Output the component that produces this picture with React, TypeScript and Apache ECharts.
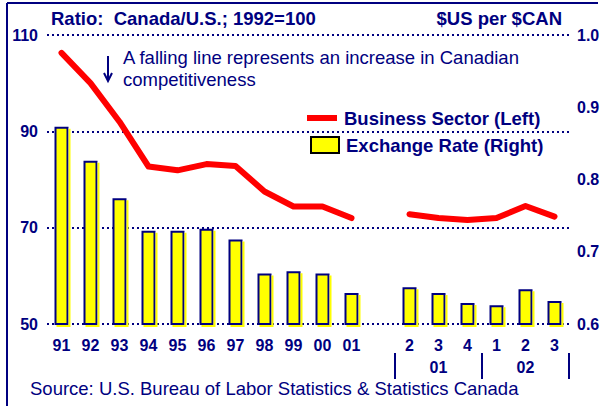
import React, { useEffect, useRef } from "react";
import * as echarts from "echarts";

const periods = ["1991","1992","1993","1994","1995","1996","1997","1998","1999","2000","2001","gap","2001Q2","2001Q3","2001Q4","2002Q1","2002Q2","2002Q3"];
const tickLabels = ["91","92","93","94","95","96","97","98","99","00","01","","2","3","4","1","2","3"];
const businessSector = [106.3, 100, 92, 82.7, 81.9, 83.2, 82.8, 77.5, 74.4, 74.4, 72.0, null, 72.8, 72.0, 71.6, 72.0, 74.5, 72.3];
const exchangeRate = [0.873, 0.826, 0.774, 0.729, 0.729, 0.732, 0.717, 0.670, 0.673, 0.670, 0.643, null, 0.651, 0.643, 0.629, 0.626, 0.648, 0.632];
const yearGroups = [
  { label: "01", from: 12, to: 14 },
  { label: "02", from: 15, to: 17 },
];

const NAVY = "#000080";
const FONT = "Liberation Sans, Arial, sans-serif";
const BIG = 18.5;

export default function App() {
  const ref = useRef<HTMLDivElement>(null);
  useEffect(() => {
    document.body.style.margin = "0";
    const chart = echarts.init(ref.current!, null, { renderer: "svg" });
    const baseGraphic: any[] = [
      { type: "line", shape: { x1: 7, y1: 3, x2: 598, y2: 3 }, style: { stroke: NAVY, lineWidth: 2 } },
      { type: "line", shape: { x1: 7, y1: 3, x2: 7, y2: 406 }, style: { stroke: NAVY, lineWidth: 2 } },
      { type: "text", x: 51, y: 18, style: { text: "Ratio:  Canada/U.S.; 1992=100", fill: NAVY, font: `bold ${BIG}px ${FONT}`, textVerticalAlign: "middle" } },
      { type: "text", x: 562, y: 18, style: { text: "$US per $CAN", fill: NAVY, font: `bold ${BIG}px ${FONT}`, textAlign: "right", textVerticalAlign: "middle" } },
      { type: "line", shape: { x1: 108, y1: 56, x2: 108, y2: 80 }, style: { stroke: NAVY, lineWidth: 2 } },
      { type: "polyline", shape: { points: [[104, 73], [108, 81], [112, 73]] }, style: { stroke: NAVY, lineWidth: 2, fill: "none" } },
      { type: "text", x: 123, y: 57, style: { text: "A falling line represents an increase in Canadian", fill: NAVY, font: `${BIG}px ${FONT}`, textVerticalAlign: "middle" } },
      { type: "text", x: 123, y: 79, style: { text: "competitiveness", fill: NAVY, font: `${BIG}px ${FONT}`, textVerticalAlign: "middle" } },
      { type: "rect", shape: { x: 307, y: 115, width: 30, height: 6 }, style: { fill: "#ff0000" } },
      { type: "text", x: 344, y: 118, style: { text: "Business Sector (Left)", fill: NAVY, font: `bold ${BIG}px ${FONT}`, textVerticalAlign: "middle" } },
      { type: "rect", shape: { x: 311, y: 137, width: 28, height: 16 }, style: { fill: "#ffff00", stroke: "#000000", lineWidth: 2 } },
      { type: "text", x: 346, y: 145, style: { text: "Exchange Rate (Right)", fill: NAVY, font: `bold ${BIG}px ${FONT}`, textVerticalAlign: "middle" } },
      { type: "text", x: 30, y: 388, style: { text: "Source: U.S. Bureau of Labor Statistics & Statistics Canada", fill: NAVY, font: `${BIG}px ${FONT}`, textVerticalAlign: "middle" } },
    ];
    chart.setOption({
      animation: false,
      backgroundColor: "#ffffff",
      textStyle: { fontFamily: FONT },
      grid: { left: 47, right: 41, top: 35, bottom: 82, containLabel: false },
      xAxis: {
        type: "category",
        data: periods,
        axisLine: { show: false },
        axisTick: { show: false },
        axisLabel: {
          interval: 0,
          margin: 13,
          color: NAVY,
          fontWeight: "bold",
          fontSize: 16,
          formatter: (_v: string, i: number) => tickLabels[i],
        },
      },
      yAxis: [
        {
          type: "value",
          min: 50,
          max: 110,
          interval: 20,
          axisLine: { show: false },
          axisTick: { show: false },
          axisLabel: { margin: 9, color: NAVY, fontWeight: "bold", fontSize: 16 },
          splitLine: { show: true, lineStyle: { color: NAVY, width: 2, type: [2, 3] } },
        },
        {
          type: "value",
          min: 0.6,
          max: 1.0,
          interval: 0.1,
          axisLine: { show: false },
          axisTick: { show: false },
          axisLabel: { margin: 8, color: NAVY, fontWeight: "bold", fontSize: 16, formatter: (v: number) => v.toFixed(1) },
          splitLine: { show: false },
        },
      ],
      series: [
        {
          name: "Exchange Rate (Right)",
          type: "bar",
          yAxisIndex: 1,
          data: exchangeRate,
          barWidth: 14,
          itemStyle: {
            color: "#ffff00",
            borderColor: NAVY,
            borderWidth: 2,
            shadowColor: "#ffff00",
            shadowOffsetX: 2,
            shadowOffsetY: 2,
            shadowBlur: 0,
          },
          z: 2,
        },
        {
          name: "Business Sector (Left)",
          type: "line",
          yAxisIndex: 0,
          data: businessSector,
          showSymbol: false,
          symbol: "none",
          connectNulls: false,
          lineStyle: { color: "#ff0000", width: 6, cap: "round", join: "round" },
          z: 3,
        },
      ],
      graphic: baseGraphic,
    });
    const px = (i: number) => chart.convertToPixel({ xAxisIndex: 0 }, i) as number;
    const step = px(1) - px(0);
    const extra: any[] = [];
    yearGroups.forEach((g) => {
      const left = px(g.from) - step / 2;
      const right = px(g.to) + step / 2;
      extra.push({ type: "line", shape: { x1: left, y1: 353, x2: left, y2: 379 }, style: { stroke: NAVY, lineWidth: 2 } });
      extra.push({ type: "text", x: (left + right) / 2, y: 367, style: { text: g.label, fill: NAVY, font: `bold 16px ${FONT}`, textAlign: "center", textVerticalAlign: "middle" } });
    });
    const lastRight = px(yearGroups[yearGroups.length - 1].to) + step / 2;
    extra.push({ type: "line", shape: { x1: lastRight, y1: 353, x2: lastRight, y2: 379 }, style: { stroke: NAVY, lineWidth: 2 } });
    chart.setOption({ graphic: [...baseGraphic, ...extra] });
    return () => chart.dispose();
  }, []);
  return <div ref={ref} style={{ width: 610, height: 406 }} />;
}
